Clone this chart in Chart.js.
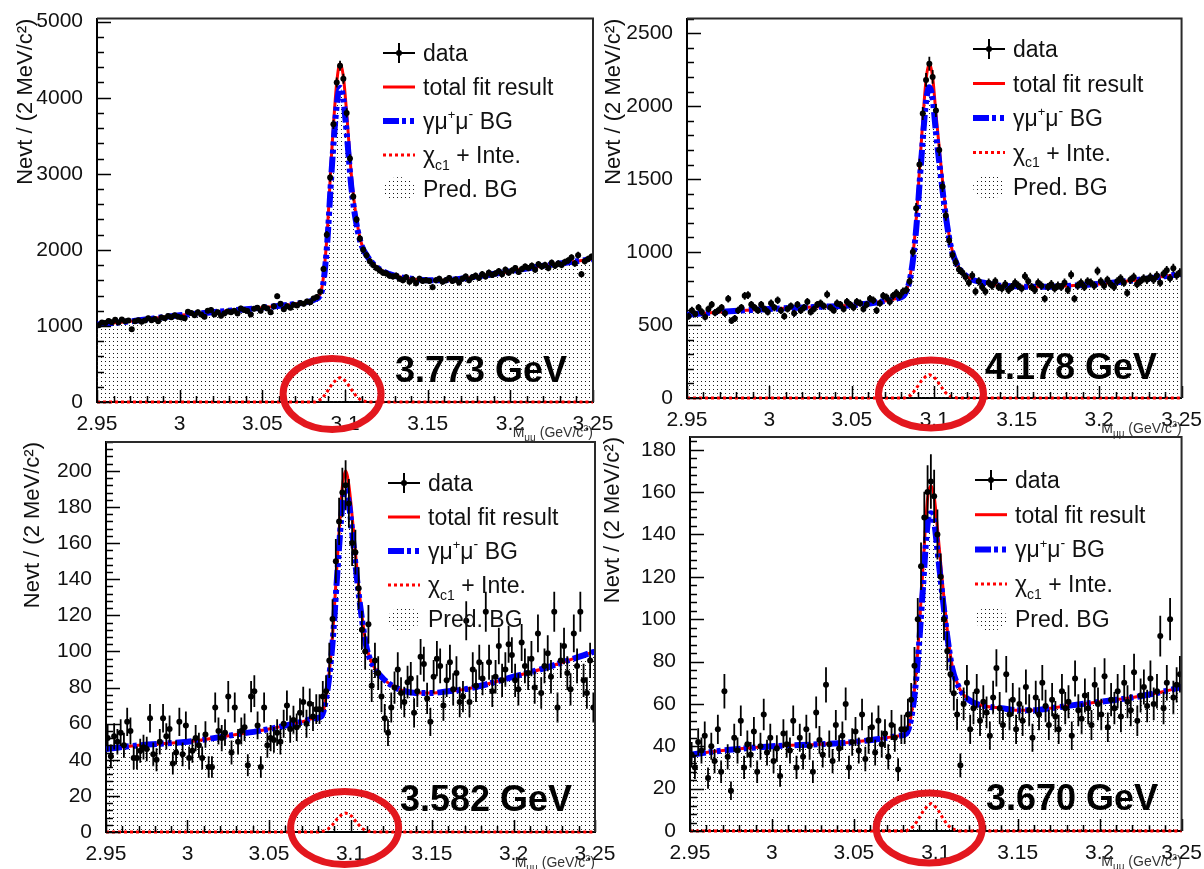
<!DOCTYPE html>
<html>
<head>
<meta charset="utf-8">
<script src="https://cdn.jsdelivr.net/npm/chart.js@4.4.1/dist/chart.umd.min.js"></script>
<style>
  html, body { margin: 0; padding: 0; background: #fff; }
  #wrap { position: relative; width: 1204px; height: 869px; overflow: hidden; }
  #wrap canvas { position: absolute; left: 0; top: 0; }
</style>
</head>
<body>
<div id="wrap">
  <canvas id="c3773" width="1204" height="869"></canvas>
  <canvas id="c4178" width="1204" height="869"></canvas>
  <canvas id="c3582" width="1204" height="869"></canvas>
  <canvas id="c3670" width="1204" height="869"></canvas>
</div>
<script>
// binning of the M(mu mu) histograms: 150 bins of 2 MeV
var binLow = 2.95;
var binWidth = 0.002;

var xTicks = [2.95, 3, 3.05, 3.1, 3.15, 3.2, 3.25];
var xTickLabels = ['2.95', '3', '3.05', '3.1', '3.15', '3.2', '3.25'];
var yTicks3773 = [0, 1000, 2000, 3000, 4000, 5000];
var yTicks4178 = [0, 500, 1000, 1500, 2000, 2500];
var yTicks3582 = [0, 20, 40, 60, 80, 100, 120, 140, 160, 180, 200];
var yTicks3670 = [0, 20, 40, 60, 80, 100, 120, 140, 160, 180];

var energyLabels = ['3.773 GeV', '4.178 GeV', '3.582 GeV', '3.670 GeV'];

// events per bin
var counts3773 = [
  1010, 1045, 1040, 1065, 1050, 1080, 1045, 1085, 1060, 1070,
  955, 1060, 1075, 1055, 1070, 1100, 1075, 1090, 1060, 1110,
  1100, 1130, 1115, 1140, 1120, 1110, 1100, 1185, 1170, 1140,
  1180, 1150, 1120, 1200, 1210, 1150, 1180, 1135, 1165, 1190,
  1180, 1200, 1165, 1230, 1210, 1195, 1150, 1225, 1240, 1200,
  1250, 1230, 1180, 1260, 1390, 1290, 1220, 1260, 1240, 1280,
  1270, 1300, 1290, 1320, 1310,
  1360, 1380, 1450, 1750, 2200, 2950, 3650, 4200, 4420, 4250, 3800, 3200, 2700, 2400, 2150,
  2000, 1930, 1850, 1800, 1760, 1730, 1700, 1690, 1660, 1650,
  1660, 1620, 1600, 1640, 1580, 1610, 1560, 1620, 1590, 1600,
  1590, 1510, 1600, 1620, 1580, 1600, 1630, 1590, 1610, 1570,
  1620, 1650, 1600, 1640, 1660, 1630, 1680, 1650, 1700, 1670,
  1690, 1720, 1680, 1740, 1700, 1730, 1760, 1710, 1750, 1780,
  1760, 1790, 1740, 1810, 1780, 1800, 1760, 1830, 1790, 1820,
  1800, 1840, 1860, 1900, 1820, 1930, 1680, 1850, 1880, 1910
];
var counts4178 = [
  560, 600, 575, 620, 590, 555, 610, 640, 585, 600,
  620, 580, 680, 530, 545, 600, 620, 700, 705, 640,
  620, 600, 640, 610, 590, 650, 620, 670, 600, 560,
  610, 630, 580, 640, 600, 620, 660, 590, 610, 640,
  650, 630, 710, 620, 600, 650, 640, 610, 660, 640,
  620, 660, 650, 610, 640, 680, 670, 600, 650, 700,
  690, 660, 700, 720, 700,
  730, 740, 800, 1000, 1300, 1600, 1950, 2180, 2290, 2200, 1970, 1700, 1450, 1250, 1080,
  980, 930, 880, 860, 830, 790, 840, 730, 800, 760,
  730, 790, 770, 800, 760, 750, 780, 740, 760, 790,
  770, 750, 835, 800, 760, 740, 790, 770, 680, 760,
  780, 750, 770, 760, 790, 740, 845, 680, 770, 790,
  760, 800, 790, 770, 870, 800, 770, 810, 780, 760,
  800, 820, 790, 720, 810, 830, 780, 800, 820, 810,
  830, 810, 840, 790, 850, 875, 820, 890, 840, 860
];
var counts3582 = [
  52, 42, 53, 50, 55, 48, 61, 56, 41, 41,
  45, 47, 46, 63, 43, 40, 50, 63, 53, 57,
  38, 44, 61, 43, 59, 41, 45, 52, 48, 41,
  54, 36, 36, 69, 56, 52, 55, 75, 44, 69,
  50, 56, 58, 37, 75, 78, 59, 36, 69, 48,
  52, 51, 55, 50, 60, 70, 57, 62, 58, 66,
  72, 60, 71, 64, 68,
  68, 75, 78, 95, 118, 150, 172, 188, 192, 182, 160, 155, 135, 112, 100,
  115, 81, 95, 88, 75, 63, 55, 69, 80, 90,
  77, 72, 83, 85, 66, 78, 97, 93, 74, 61,
  86, 96, 92, 70, 84, 94, 79, 88, 72, 75,
  117, 72, 90, 81, 94, 85, 122, 94, 78, 86,
  103, 84, 90, 104, 98, 84, 79, 105, 92, 88,
  96, 80, 110, 77, 92, 99, 86, 122, 69, 95,
  103, 88, 79, 110, 92, 122, 84, 77, 95, 69
];
var counts3670 = [
  36, 30, 42, 38, 45, 25, 40, 33, 48, 28,
  66, 35, 19, 44, 38, 52, 30, 41, 36, 47,
  28, 40, 55, 37, 44, 33, 39, 26, 46, 41,
  38, 52, 30, 44, 35, 48, 40, 28, 56, 43,
  36, 69, 41, 33, 50, 39, 45, 60, 30, 42,
  47, 38, 55, 34, 43, 49, 37, 52, 41, 46,
  35, 50, 44, 29, 48,
  48, 55, 62, 78, 100, 125, 148, 160, 165, 158, 140, 120, 100, 85, 74,
  65, 55, 31, 60, 70, 48, 58, 66, 52, 61,
  56, 45, 63, 77, 58, 50, 74, 55, 62, 48,
  60, 52, 68, 57, 44, 63, 55, 70, 59, 50,
  62, 54, 48, 66, 58, 61, 45, 72, 57, 53,
  64, 58, 50, 69, 60, 55, 73, 49, 62, 58,
  66, 54, 70, 61, 57, 75, 52, 64, 68, 59,
  72, 60, 66, 92, 58, 70, 100, 63, 69, 74
];

// fit curves, sampled at these masses
var fitX = [2.95, 2.97, 3.0, 3.03, 3.05, 3.07, 3.078, 3.082, 3.086, 3.089, 3.092, 3.095, 3.097, 3.099,
  3.101, 3.104, 3.107, 3.110, 3.114, 3.12, 3.13, 3.14, 3.15, 3.16, 3.17, 3.18, 3.20, 3.22, 3.24, 3.25];
var total3773 = [1020, 1060, 1140, 1200, 1240, 1290, 1320, 1350, 1500, 2150, 3300, 4200, 4450, 4280,
  3800, 2950, 2400, 2080, 1900, 1760, 1660, 1620, 1600, 1600, 1620, 1650, 1720, 1790, 1850, 1880];
var bg3773 = [1020, 1060, 1140, 1200, 1240, 1290, 1320, 1350, 1460, 2020, 3070, 3900, 4130, 3980,
  3540, 2790, 2330, 2060, 1900, 1760, 1660, 1620, 1600, 1600, 1620, 1650, 1720, 1790, 1850, 1880];
var total4178 = [570, 590, 610, 625, 635, 665, 685, 710, 880, 1220, 1730, 2180, 2290, 2200,
  1950, 1600, 1280, 1050, 910, 830, 790, 770, 765, 762, 762, 768, 782, 805, 835, 850];
var bg4178 = [570, 590, 610, 625, 635, 665, 685, 710, 860, 1155, 1615, 2030, 2130, 2050,
  1820, 1520, 1245, 1040, 910, 830, 790, 770, 765, 762, 762, 768, 782, 805, 835, 850];
var total3582 = [46, 48, 50, 54, 57, 61, 63, 64, 81, 109, 152, 191, 200, 192,
  175, 145, 120, 102, 92, 85, 79, 77, 77, 78, 79, 81, 86, 91, 97, 100];
var bg3582 = [46, 48, 50, 54, 57, 61, 63, 64, 79.5, 105, 144.5, 181, 189.5, 182,
  166.5, 140, 118, 101.5, 92, 85, 79, 77, 77, 78, 79, 81, 86, 91, 97, 100];
var total3670 = [36, 38, 40, 41, 42, 44, 45, 46, 60, 85, 122, 157, 163, 158,
  143, 118, 95, 78, 68, 62, 59, 58, 57, 57, 58, 59, 61, 63, 66, 68];
var bg3670 = [36, 38, 40, 41, 42, 44, 45, 46, 58, 80, 113, 145, 150, 146,
  132.5, 111.5, 92, 77, 68, 62, 59, 58, 57, 57, 58, 59, 61, 63, 66, 68];

// chi_c1 + interference component
var chiX = [2.95, 3.082, 3.086, 3.089, 3.092, 3.095, 3.097, 3.099, 3.101, 3.104, 3.107, 3.110, 3.114, 3.25];
var chi3773 = [0, 0, 40, 130, 230, 300, 320, 300, 260, 160, 70, 20, 0, 0];
var chi4178 = [0, 0, 20, 65, 115, 150, 160, 150, 130, 80, 35, 10, 0, 0];
var chi3582 = [0, 0, 1.5, 4, 7.5, 10, 10.5, 10, 8.5, 5, 2, 0.5, 0, 0];
var chi3670 = [0, 0, 2, 5, 9, 12, 13, 12, 10.5, 6.5, 3, 1, 0, 0];

// legend rows: [text, size factor, baseline shift in em]
var legendLabels = [
  [['data']],
  [['total fit result']],
  [['γμ'], ['+', 0.55, -0.42], ['μ'], ['-', 0.6, -0.42], [' BG']],
  [['χ'], ['c1', 0.6, 0.3], [' + Inte.']],
  [['Pred. BG']]
];
var yTitle = 'Nevt / (2 MeV/c²)';
var xTitle = [['M', 14], ['μμ', 10, 4], [' (GeV/c', 14], ['2', 9, -6], [')', 14]];

var FONT = '"Liberation Sans", Arial, Helvetica, sans-serif';
var W = 1204, H = 869, YW = 95, XH = 30;

var panels = [
  { canvas: 'c3773', tag: energyLabels[0], counts: counts3773, total: total3773, bg: bg3773, chi: chi3773,
    yTicks: yTicks3773, yMax: 5040, yMinor: 200, area: { l: 97, r: 593, t: 11, b: 402 }, titlePad: 11,
    legend: { x: 383, y: 53, dy: 34 }, tagPos: { x: 395, y: 372 }, ring: { x: 3.0922, dy: -8, rx: 49, ry: 35.5 } },
  { canvas: 'c4178', tag: energyLabels[1], counts: counts4178, total: total4178, bg: bg4178, chi: chi4178,
    yTicks: yTicks4178, yMax: 2600, yMinor: 100, area: { l: 687, r: 1183, t: 6, b: 398 }, titlePad: 9,
    legend: { x: 973, y: 49, dy: 34.5 }, tagPos: { x: 985, y: 369 }, ring: { x: 3.098, dy: -4, rx: 52.5, ry: 34 } },
  { canvas: 'c3582', tag: energyLabels[2], counts: counts3582, total: total3582, bg: bg3582, chi: chi3582,
    yTicks: yTicks3582, yMax: 216, yMinor: 4, area: { l: 106, r: 595, t: 442, b: 832 }, titlePad: 9,
    legend: { x: 388, y: 483, dy: 34 }, tagPos: { x: 400, y: 801 }, ring: { x: 3.0964, dy: -4, rx: 54, ry: 36.5 } },
  { canvas: 'c3670', tag: energyLabels[3], counts: counts3670, total: total3670, bg: bg3670, chi: chi3670,
    yTicks: yTicks3670, yMax: 186, yMinor: 4, area: { l: 690, r: 1183, t: 437, b: 831 }, titlePad: 5,
    legend: { x: 975, y: 480, dy: 34.7 }, tagPos: { x: 986, y: 800 }, ring: { x: 3.096, dy: -3, rx: 53, ry: 35 } }
];

function zip(xs, ys) {
  return ys.map(function(y, i) { return { x: xs[i], y: y }; });
}

function dotPattern(ctx) {
  var c = document.createElement('canvas');
  c.width = 4; c.height = 4;
  var g = c.getContext('2d');
  g.fillStyle = '#1a1a1a';
  g.fillRect(1, 1, 1, 1);
  return ctx.createPattern(c, 'repeat');
}

// text with super/subscripts, parts = [text, size, shift]
function drawParts(ctx, parts, x, y, size, weight, alignRight) {
  var w = 0;
  parts.forEach(function(p) {
    ctx.font = (weight || '') + ' ' + Math.round(size * (p[1] || 1)) + 'px ' + FONT;
    w += ctx.measureText(p[0]).width;
  });
  var cx = alignRight ? x - w : x;
  parts.forEach(function(p) {
    ctx.font = (weight || '') + ' ' + Math.round(size * (p[1] || 1)) + 'px ' + FONT;
    ctx.fillText(p[0], cx, y + (p[2] || 0) * size);
    cx += ctx.measureText(p[0]).width;
  });
}

var blueDash = [16, 3, 4, 4, 4, 4];

function rootStyle(p, pattern) {
  return {
    id: 'rootStyle',
    afterDatasetsDraw: function(chart) {
      // Poisson error bars on the data points
      var ctx = chart.ctx, xs = chart.scales.x, ys = chart.scales.y;
      ctx.save();
      ctx.strokeStyle = '#000';
      ctx.lineWidth = 1.8;
      ctx.beginPath();
      chart.data.datasets[0].data.forEach(function(pt) {
        var err = Math.sqrt(pt.y);
        var px = xs.getPixelForValue(pt.x), py = ys.getPixelForValue(pt.y);
        ctx.moveTo(px, ys.getPixelForValue(pt.y - err));
        ctx.lineTo(px, ys.getPixelForValue(pt.y + err));
        ctx.moveTo(xs.getPixelForValue(pt.x - binWidth / 2), py);
        ctx.lineTo(xs.getPixelForValue(pt.x + binWidth / 2), py);
      });
      ctx.stroke();
      ctx.restore();
    },
    afterDraw: function(chart) {
      var ctx = chart.ctx, xs = chart.scales.x, ys = chart.scales.y, a = chart.chartArea;
      ctx.save();

      // inward tick marks
      ctx.strokeStyle = '#000';
      ctx.lineWidth = 1.5;
      ctx.beginPath();
      for (var k = 0; k <= 30; k++) {
        var tx = Math.round(xs.getPixelForValue(xTicks[0] + k * 0.01)) + 0.5;
        ctx.moveTo(tx, a.bottom);
        ctx.lineTo(tx, a.bottom - (k % 5 === 0 ? 12 : 6));
      }
      var major = p.yTicks[1];
      for (var v = 0; v <= p.yMax + 1e-9; v += p.yMinor) {
        var ty = Math.round(ys.getPixelForValue(v)) + 0.5;
        var isMajor = Math.abs(v / major - Math.round(v / major)) < 1e-6;
        ctx.moveTo(a.left, ty);
        ctx.lineTo(a.left + (isMajor ? 14 : 7), ty);
      }
      ctx.stroke();

      // upper and right frame
      ctx.strokeStyle = '#2a2a2a';
      ctx.lineWidth = 2;
      ctx.beginPath();
      ctx.moveTo(a.left, a.top);
      ctx.lineTo(a.right, a.top);
      ctx.lineTo(a.right, a.bottom);
      ctx.stroke();

      // legend
      var L = p.legend, lw = 32, fs = 23;
      for (var i = 0; i < legendLabels.length; i++) {
        var y = L.y + i * L.dy;
        ctx.setLineDash([]);
        if (i === 0) {
          ctx.strokeStyle = '#000'; ctx.fillStyle = '#000'; ctx.lineWidth = 2;
          ctx.beginPath();
          ctx.moveTo(L.x, y); ctx.lineTo(L.x + lw, y);
          ctx.moveTo(L.x + lw / 2, y - 10); ctx.lineTo(L.x + lw / 2, y + 10);
          ctx.stroke();
          ctx.beginPath(); ctx.arc(L.x + lw / 2, y, 3, 0, Math.PI * 2); ctx.fill();
        } else if (i === 1) {
          ctx.strokeStyle = '#ff0000'; ctx.lineWidth = 3;
          ctx.beginPath(); ctx.moveTo(L.x, y); ctx.lineTo(L.x + lw, y); ctx.stroke();
        } else if (i === 2) {
          ctx.strokeStyle = '#0000ff'; ctx.lineWidth = 6; ctx.setLineDash(blueDash);
          ctx.beginPath(); ctx.moveTo(L.x, y); ctx.lineTo(L.x + lw, y); ctx.stroke();
        } else if (i === 3) {
          ctx.strokeStyle = '#ff0000'; ctx.lineWidth = 3; ctx.setLineDash([3, 3]);
          ctx.beginPath(); ctx.moveTo(L.x, y); ctx.lineTo(L.x + lw, y); ctx.stroke();
        } else {
          ctx.fillStyle = pattern;
          ctx.beginPath(); ctx.ellipse(L.x + lw / 2, y, lw / 2, 12, 0, 0, Math.PI * 2); ctx.fill();
        }
        ctx.setLineDash([]);
        ctx.fillStyle = '#111';
        ctx.textBaseline = 'alphabetic';
        drawParts(ctx, legendLabels[i], L.x + lw + 8, y + 8, fs);
      }

      // beam energy
      ctx.fillStyle = '#000';
      ctx.textBaseline = 'middle';
      ctx.font = 'bold 36px ' + FONT;
      ctx.fillText(p.tag, p.tagPos.x, p.tagPos.y);

      // x-axis title
      ctx.fillStyle = '#333';
      ctx.textBaseline = 'alphabetic';
      drawParts(ctx, xTitle.map(function(q) { return [q[0], q[1] / 14, (q[2] || 0) / 14]; }), a.right, a.bottom + 35, 14, '', true);

      // highlight ring around the chi_c1 peak
      ctx.strokeStyle = '#e3171e';
      ctx.lineWidth = 7;
      ctx.beginPath();
      ctx.ellipse(xs.getPixelForValue(p.ring.x), a.bottom + p.ring.dy, p.ring.rx, p.ring.ry, 0, 0, Math.PI * 2);
      ctx.stroke();
      ctx.restore();
    }
  };
}

Chart.defaults.font.family = FONT;

panels.forEach(function(p) {
  var el = document.getElementById(p.canvas);
  var pattern = dotPattern(el.getContext('2d'));
  var points = p.counts.map(function(n, i) {
    return { x: binLow + binWidth * (i + 0.5), y: n };
  });
  var bgPts = zip(fitX, p.bg);

  new Chart(el, {
    type: 'line',
    data: {
      datasets: [{
        label: 'data',
        data: points,
        showLine: false,
        pointRadius: 3,
        pointBackgroundColor: '#000',
        pointBorderWidth: 0,
        order: 0
      }, {
        label: 'chi_c1 + Inte.',
        data: zip(chiX, p.chi),
        borderColor: '#ff0000',
        borderWidth: 3,
        borderDash: [3, 3],
        pointRadius: 0,
        tension: 0,
        fill: false,
        clip: false,
        order: 1
      }, {
        label: 'gamma mu mu BG',
        data: bgPts,
        borderColor: '#0000ff',
        borderWidth: 6,
        borderDash: blueDash,
        pointRadius: 0,
        cubicInterpolationMode: 'monotone',
        fill: false,
        order: 2
      }, {
        label: 'total fit result',
        data: zip(fitX, p.total),
        borderColor: '#ff0000',
        borderWidth: 3,
        pointRadius: 0,
        cubicInterpolationMode: 'monotone',
        fill: false,
        order: 3
      }, {
        label: 'Pred. BG',
        data: bgPts,
        borderWidth: 0,
        borderColor: 'rgba(0,0,0,0)',
        backgroundColor: pattern,
        pointRadius: 0,
        cubicInterpolationMode: 'monotone',
        fill: 'origin',
        order: 4
      }]
    },
    options: {
      responsive: false,
      animation: false,
      events: [],
      devicePixelRatio: 1,
      layout: {
        padding: {
          left: p.area.l - YW,
          right: W - p.area.r,
          top: p.area.t,
          bottom: H - p.area.b - XH
        }
      },
      plugins: {
        legend: { display: false },
        tooltip: { enabled: false }
      },
      scales: {
        x: {
          type: 'linear',
          min: xTicks[0],
          max: xTicks[xTicks.length - 1],
          afterBuildTicks: function(s) { s.ticks = xTicks.map(function(v) { return { value: v }; }); },
          afterFit: function(s) { s.height = XH; },
          grid: { display: false },
          border: { display: true, color: '#000', width: 2 },
          ticks: {
            autoSkip: false,
            maxRotation: 0,
            padding: 2,
            color: '#111',
            font: { size: 21 },
            callback: function(v, i) { return xTickLabels[i]; }
          }
        },
        y: {
          type: 'linear',
          min: 0,
          max: p.yMax,
          afterBuildTicks: function(s) { s.ticks = p.yTicks.map(function(v) { return { value: v }; }); },
          afterFit: function(s) { s.width = YW; },
          grid: { display: false },
          border: { display: true, color: '#000', width: 2 },
          ticks: {
            padding: 6,
            color: '#111',
            font: { size: 21 },
            callback: function(v) { return String(v); }
          },
          title: {
            display: true,
            text: yTitle,
            align: 'end',
            color: '#111',
            font: { size: 22 },
            padding: { top: p.titlePad, bottom: 0 }
          }
        }
      }
    },
    plugins: [rootStyle(p, pattern)]
  });
});
</script>
</body>
</html>
